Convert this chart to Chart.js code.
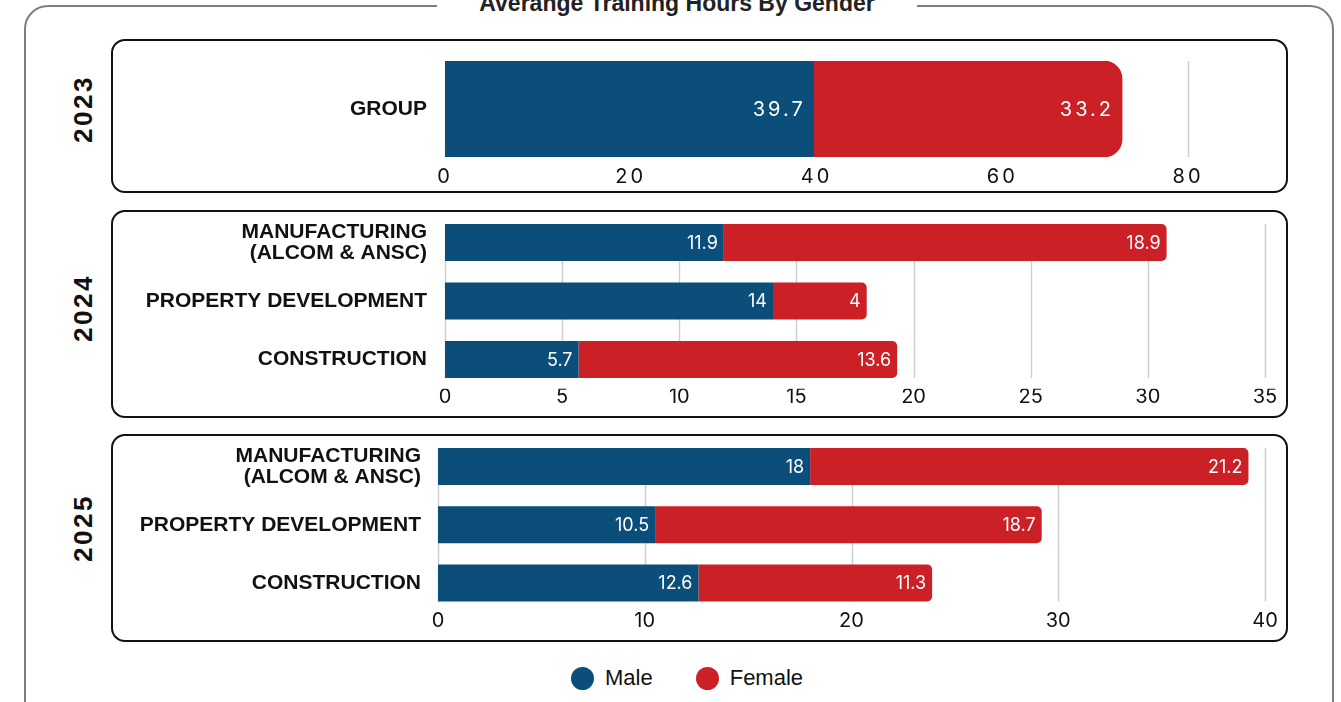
<!DOCTYPE html>
<html>
<head>
<meta charset="utf-8">
<script src="https://cdn.jsdelivr.net/npm/chart.js@4.4.1/dist/chart.umd.min.js"></script>
<style>
  html, body { margin: 0; padding: 0; background: #fff; }
  body { width: 1341px; height: 702px; overflow: hidden; position: relative;
         font-family: "Liberation Sans", Arial, sans-serif; color: #111; }
  .card { position: absolute; left: 24px; top: 5px; width: 1310px; height: 760px;
          box-sizing: border-box; border: 2.5px solid #7e7e7e; border-radius: 24px; }
  .title { position: absolute; left: 437px; top: -8px; width: 480px; height: 24px;
           background: #fff; text-align: center; font-weight: bold; font-size: 23px;
           line-height: 23px; color: #222; white-space: nowrap; }
  .panel { position: absolute; left: 111px; width: 1177px; box-sizing: border-box;
           border: 2.5px solid #111; border-radius: 14px; pointer-events: none; }
  canvas { position: absolute; left: 111px; }
  .year { position: absolute; left: 33px; width: 100px; height: 30px; line-height: 30px;
          text-align: center; font-weight: bold; font-size: 26px; letter-spacing: 2.5px;
          transform: rotate(-90deg); color: #111; }
  .legend { position: absolute; top: 665px; left: 571px; display: flex; align-items: center;
            font-size: 22px; color: #111; }
  .legend .item { display: flex; align-items: center; margin-right: 43px; }
  .legend .dot { width: 23px; height: 23px; border-radius: 50%; margin-right: 11px; }
</style>
</head>
<body>
<div class="card"></div>
<div class="title">Averange Training Hours By Gender</div>

<div class="year" style="top:94px;">2023</div>
<div class="year" style="top:293px;">2024</div>
<div class="year" style="top:513px;">2025</div>

<canvas id="c2023" width="1177" height="154" style="top:39px;"></canvas>
<canvas id="c2024" width="1177" height="208" style="top:210px;"></canvas>
<canvas id="c2025" width="1177" height="208" style="top:434px;"></canvas>

<div class="panel" style="top:39px;height:154px;"></div>
<div class="panel" style="top:210px;height:208px;"></div>
<div class="panel" style="top:434px;height:208px;"></div>

<div class="legend" id="legend"></div>

<script>
// Series and categories
const seriesNames = ['Male', 'Female'];
const seriesColors = ['#0b4e7a', '#cc2027'];

const categories2023 = ['GROUP'];
const male2023 = [39.7];
const female2023 = [33.2];

const categories2024 = [['MANUFACTURING', '(ALCOM & ANSC)'], 'PROPERTY DEVELOPMENT', 'CONSTRUCTION'];
const male2024 = [11.9, 14, 5.7];
const female2024 = [18.9, 4, 13.6];

const categories2025 = [['MANUFACTURING', '(ALCOM & ANSC)'], 'PROPERTY DEVELOPMENT', 'CONSTRUCTION'];
const male2025 = [18, 10.5, 12.6];
const female2025 = [21.2, 18.7, 11.3];

// Axis ranges (min 0) and tick steps
const axisMax = [80, 35, 40];
const axisStep = [20, 5, 10];

// Vertical guide lines spanning only the bar block, one per x tick
const barGrid = {
  id: 'barGrid',
  beforeDatasetsDraw(chart, args, o) {
    const xs = chart.scales.x;
    let top = Infinity, bottom = -Infinity;
    chart.data.datasets.forEach((d, i) => {
      chart.getDatasetMeta(i).data.forEach(el => {
        top = Math.min(top, el.y - el.height / 2);
        bottom = Math.max(bottom, el.y + el.height / 2);
      });
    });
    const ctx = chart.ctx;
    ctx.save();
    ctx.strokeStyle = o.color;
    ctx.lineWidth = o.width;
    xs.ticks.forEach(t => {
      const x = Math.round(xs.getPixelForValue(t.value)) + 0.5;
      ctx.beginPath();
      ctx.moveTo(x, top);
      ctx.lineTo(x, bottom);
      ctx.stroke();
    });
    ctx.restore();
  }
};

// Value text inside the end of every bar segment
const barLabels = {
  id: 'barLabels',
  afterDatasetsDraw(chart, args, o) {
    const ctx = chart.ctx;
    ctx.save();
    ctx.font = o.font;
    ctx.fillStyle = '#fff';
    ctx.textAlign = 'right';
    ctx.textBaseline = 'middle';
    ctx.letterSpacing = o.spacing || '0px';
    chart.data.datasets.forEach((ds, i) => {
      chart.getDatasetMeta(i).data.forEach((el, j) => {
        ctx.fillText(String(ds.data[j]), el.x - o.pad, el.y + 1);
      });
    });
    ctx.restore();
  }
};

// Optional letter spacing for the x tick labels
const spacedTicks = {
  id: 'spacedTicks',
  afterUpdate(chart, args, o) {
    const s = chart.scales.x;
    if (!s || s._spacedWrap) return;
    const orig = s.drawLabels;
    s.drawLabels = function (area) {
      const c = this.ctx;
      const prev = c.letterSpacing;
      c.letterSpacing = o.spacing || '0px';
      orig.call(this, area);
      c.letterSpacing = prev;
    };
    s._spacedWrap = true;
  }
};

function noEdgePadding(s) {
  s.paddingTop = 0; s.paddingBottom = 0; s.paddingLeft = 0; s.paddingRight = 0;
}

function makeChart(id, cats, male, female, k, cfg) {
  return new Chart(document.getElementById(id), {
    type: 'bar',
    data: {
      labels: cats,
      datasets: [
        { label: seriesNames[0], data: male, backgroundColor: seriesColors[0],
          borderWidth: 0, borderRadius: 0, categoryPercentage: 1, barPercentage: cfg.bar },
        { label: seriesNames[1], data: female, backgroundColor: seriesColors[1],
          borderWidth: 0, borderRadius: cfg.radius, borderSkipped: 'start',
          categoryPercentage: 1, barPercentage: cfg.bar }
      ]
    },
    plugins: [barGrid, barLabels, spacedTicks],
    options: {
      indexAxis: 'y',
      responsive: false,
      animation: false,
      events: [],
      layout: { padding: { top: cfg.top, right: cfg.right, left: 0, bottom: 0 } },
      plugins: {
        legend: { display: false },
        tooltip: { enabled: false },
        barGrid: { color: '#cfcfcf', width: 1.5 },
        barLabels: { font: cfg.labelFont, pad: cfg.labelPad, spacing: cfg.spacing },
        spacedTicks: { spacing: cfg.spacing }
      },
      scales: {
        x: {
          stacked: true, min: 0, max: axisMax[k],
          ticks: { stepSize: axisStep[k], padding: cfg.tickPad, color: '#111',
                   font: { family: 'Inter', size: 20 } },
          grid: { display: false, drawTicks: false },
          border: { display: false },
          afterFit(s) { s.height = cfg.xh; noEdgePadding(s); }
        },
        y: {
          stacked: true,
          ticks: { padding: cfg.yPad, color: '#111',
                   font: { family: 'Liberation Sans', weight: 'bold', size: 21, lineHeight: 1.0 } },
          grid: { display: false, drawTicks: false },
          border: { display: false },
          afterFit(s) { s.width = cfg.yw; noEdgePadding(s); }
        }
      }
    }
  });
}

makeChart('c2023', categories2023, male2023, female2023, 0, {
  bar: 1, radius: 18, top: 22, right: 100, xh: 36, yw: 334, yPad: 18, tickPad: 8,
  labelFont: '400 20px Inter', labelPad: 8, spacing: '3px'
});
makeChart('c2024', categories2024, male2024, female2024, 1, {
  bar: 0.632, radius: 5, top: 3.25, right: 23, xh: 29.25, yw: 334, yPad: 18, tickPad: -4,
  labelFont: '400 18px Inter', labelPad: 6, spacing: '0px'
});
makeChart('c2025', categories2025, male2025, female2025, 2, {
  bar: 0.635, radius: 5, top: 3.4, right: 23, xh: 29.9, yw: 327, yPad: 17, tickPad: -3,
  labelFont: '400 18px Inter', labelPad: 6, spacing: '0px'
});

// Legend
const legend = document.getElementById('legend');
seriesNames.forEach((name, i) => {
  const item = document.createElement('div');
  item.className = 'item';
  const dot = document.createElement('span');
  dot.className = 'dot';
  dot.style.background = seriesColors[i];
  const txt = document.createElement('span');
  txt.textContent = name;
  item.appendChild(dot);
  item.appendChild(txt);
  legend.appendChild(item);
});
</script>
</body>
</html>
